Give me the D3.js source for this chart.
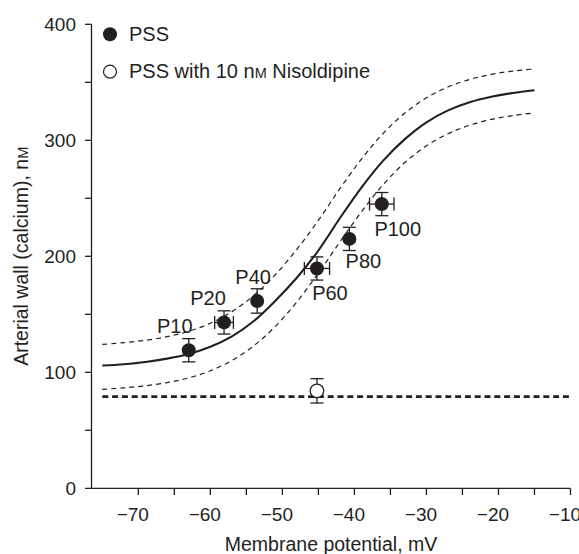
<!DOCTYPE html>
<html>
<head>
<meta charset="utf-8">
<script src="https://cdn.jsdelivr.net/npm/d3@7/dist/d3.min.js"></script>
<style>
  html, body { margin: 0; padding: 0; background: #fff; }
  svg { display: block; }
  text { font-family: "Liberation Sans", Arial, Helvetica, sans-serif; fill: #231f20; }
</style>
</head>
<body>
<div id="chart"></div>
<script>
// ---------- data ----------
const curveV     = [-75, -72, -69, -66, -63, -60, -57, -54, -51, -48, -45, -42, -39, -36, -33, -30, -27, -24, -21, -18, -15];
const fitMean    = [105.8, 107.0, 108.9, 111.8, 115.8, 122.0, 131.0, 144.0, 161.5, 181.5, 205.0, 233.0, 259.5, 282.5, 301.0, 315.5, 325.8, 332.8, 337.5, 340.8, 343.2];
const fitUpper   = [124.0, 125.6, 127.6, 130.7, 135.4, 142.3, 152.3, 166.0, 184.0, 206.0, 231.0, 258.5, 284.0, 306.0, 323.5, 336.6, 346.0, 352.5, 356.8, 359.7, 361.5];
const fitLower   = [85.3, 86.6, 88.4, 91.1, 95.2, 101.3, 110.2, 122.7, 139.4, 160.6, 185.5, 212.5, 238.5, 261.8, 280.8, 295.2, 305.7, 313.0, 318.0, 321.3, 323.6];

const pssLabels  = ["P10", "P20", "P40", "P60", "P80", "P100"];
const pssV       = [-63.0, -58.1, -53.5, -45.2, -40.7, -36.2];
const pssCa      = [119, 143, 161.5, 189.5, 215, 245];
const pssErrCa   = [10, 10, 10.5, 10, 10, 10];
const pssErrV    = [0, 1.3, 0, 1.75, 0, 1.7];

const nisV       = [-45.2];
const nisCa      = [84];
const nisErrCa   = [10.5];
const nisErrV    = [0];

const nisLevelV  = [-75, -10];
const nisLevelCa = [79, 79];

const xTicksMajor = [-70, -60, -50, -40, -30, -20, -10];
const xTicksMinor = [-65, -55, -45, -35, -25, -15];
const yTicksMajor = [0, 100, 200, 300, 400];
const yTicksMinor = [50, 150, 250, 350];

const legendItems = ["PSS", "PSS with 10 n|M| Nisoldipine"];
const xTitle = "Membrane potential, mV";
const yTitle = "Arterial wall (calcium), n|M|";

// ---------- layout ----------
const W = 579, H = 554;
const ink = "#231f20";
const labelOffset = { P10: [-14, -17], P20: [-16, -17], P40: [-4, -17], P60: [13, 32], P80: [14, 29], P100: [16, 32] };

const svg = d3.select("#chart").append("svg").attr("width", W).attr("height", H);

const x = d3.scaleLinear().domain([-76.5, -10]).range([91.5, 570.5]);
const y = d3.scaleLinear().domain([0, 400]).range([488.3, 24.3]);

// small-caps helper: text between | | drawn smaller
function smallCaps(sel, str, bigSize, smallSize) {
  const parts = str.split("|");
  parts.forEach((p, i) => {
    if (!p) return;
    sel.append("tspan").attr("font-size", i % 2 ? smallSize : bigSize).text(p);
  });
}

// ---------- axes ----------
const axisG = svg.append("g").attr("stroke", ink).attr("stroke-width", 1.3).attr("fill", "none");
axisG.append("line").attr("x1", x(-76.5)).attr("x2", x(-76.5)).attr("y1", y(400)).attr("y2", y(0));
axisG.append("line").attr("x1", x(-76.5) - 6.5).attr("x2", x(-10)).attr("y1", y(0)).attr("y2", y(0));

xTicksMajor.concat(xTicksMinor).forEach(v => {
  axisG.append("line").attr("x1", x(v)).attr("x2", x(v)).attr("y1", y(0)).attr("y2", y(0) + 6.7);
});
yTicksMajor.concat(yTicksMinor).forEach(v => {
  if (v === 0) return;
  axisG.append("line").attr("x1", x(-76.5) - 6.5).attr("x2", x(-76.5)).attr("y1", y(v)).attr("y2", y(v));
});

// tick labels
xTicksMajor.forEach(v => {
  svg.append("text")
    .attr("x", x(v) + 10.6).attr("y", 520.7)
    .attr("text-anchor", "end").attr("font-size", 19)
    .text("\u2212" + Math.abs(v));
});
yTicksMajor.forEach(v => {
  svg.append("text")
    .attr("x", 76).attr("y", y(v) + 6.8)
    .attr("text-anchor", "end").attr("font-size", 19)
    .text(v);
});

// axis titles
svg.append("text")
  .attr("x", (x(-76.5) + x(-10)) / 2).attr("y", 551)
  .attr("text-anchor", "middle").attr("font-size", 19.5)
  .text(xTitle);
const yt = svg.append("text")
  .attr("transform", `translate(28,${(y(0) + y(400)) / 2}) rotate(-90)`)
  .attr("text-anchor", "middle");
smallCaps(yt, yTitle, 19.5, 14.5);

// ---------- curves ----------
const line = d3.line().curve(d3.curveCatmullRom.alpha(0.5)).x(d => x(d[0])).y(d => y(d[1]));
const curveG = svg.append("g").attr("fill", "none").attr("stroke", ink);

curveG.append("path").datum(curveV.map((v, i) => [v, fitUpper[i]]))
  .attr("d", line).attr("stroke-width", 1.2).attr("stroke-dasharray", "5,4");
curveG.append("path").datum(curveV.map((v, i) => [v, fitLower[i]]))
  .attr("d", line).attr("stroke-width", 1.2).attr("stroke-dasharray", "5,4");
curveG.append("path").datum(curveV.map((v, i) => [v, fitMean[i]]))
  .attr("d", line).attr("stroke-width", 2.1);
curveG.append("path").datum(nisLevelV.map((v, i) => [v, nisLevelCa[i]]))
  .attr("d", d3.line().x(d => x(d[0])).y(d => y(d[1])))
  .attr("stroke-width", 2.6).attr("stroke-dasharray", "6,3.8");

// ---------- error bars + points ----------
function drawErr(g, vx, vy, ey, ex) {
  const cap = 6.5;
  g.append("line").attr("x1", x(vx)).attr("x2", x(vx)).attr("y1", y(vy - ey)).attr("y2", y(vy + ey));
  g.append("line").attr("x1", x(vx) - cap).attr("x2", x(vx) + cap).attr("y1", y(vy + ey)).attr("y2", y(vy + ey));
  g.append("line").attr("x1", x(vx) - cap).attr("x2", x(vx) + cap).attr("y1", y(vy - ey)).attr("y2", y(vy - ey));
  if (ex > 0) {
    g.append("line").attr("x1", x(vx - ex)).attr("x2", x(vx + ex)).attr("y1", y(vy)).attr("y2", y(vy));
    g.append("line").attr("x1", x(vx - ex)).attr("x2", x(vx - ex)).attr("y1", y(vy) - cap).attr("y2", y(vy) + cap);
    g.append("line").attr("x1", x(vx + ex)).attr("x2", x(vx + ex)).attr("y1", y(vy) - cap).attr("y2", y(vy) + cap);
  }
}
const errG = svg.append("g").attr("stroke", ink).attr("stroke-width", 1.3);
pssV.forEach((v, i) => drawErr(errG, v, pssCa[i], pssErrCa[i], pssErrV[i]));
nisV.forEach((v, i) => drawErr(errG, v, nisCa[i], nisErrCa[i], nisErrV[i]));

svg.append("g").selectAll("circle").data(pssV).join("circle")
  .attr("cx", d => x(d)).attr("cy", (d, i) => y(pssCa[i])).attr("r", 7)
  .attr("fill", ink);
svg.append("g").selectAll("circle").data(nisV).join("circle")
  .attr("cx", d => x(d)).attr("cy", (d, i) => y(nisCa[i])).attr("r", 6.8)
  .attr("fill", "#fff").attr("stroke", ink).attr("stroke-width", 1.3);

// point labels
pssLabels.forEach((lab, i) => {
  const o = labelOffset[lab];
  svg.append("text")
    .attr("x", x(pssV[i]) + o[0]).attr("y", y(pssCa[i]) + o[1])
    .attr("text-anchor", "middle").attr("font-size", 20)
    .text(lab);
});

// ---------- legend ----------
const lg = svg.append("g");
lg.append("circle").attr("cx", 110).attr("cy", 34.3).attr("r", 7).attr("fill", ink);
lg.append("circle").attr("cx", 110).attr("cy", 71.7).attr("r", 6.5).attr("fill", "#fff").attr("stroke", ink).attr("stroke-width", 1.2);
const l1 = lg.append("text").attr("x", 129).attr("y", 41);
smallCaps(l1, legendItems[0], 20, 14.5);
const l2 = lg.append("text").attr("x", 129).attr("y", 77.6);
smallCaps(l2, legendItems[1], 20, 14.5);
</script>
</body>
</html>
